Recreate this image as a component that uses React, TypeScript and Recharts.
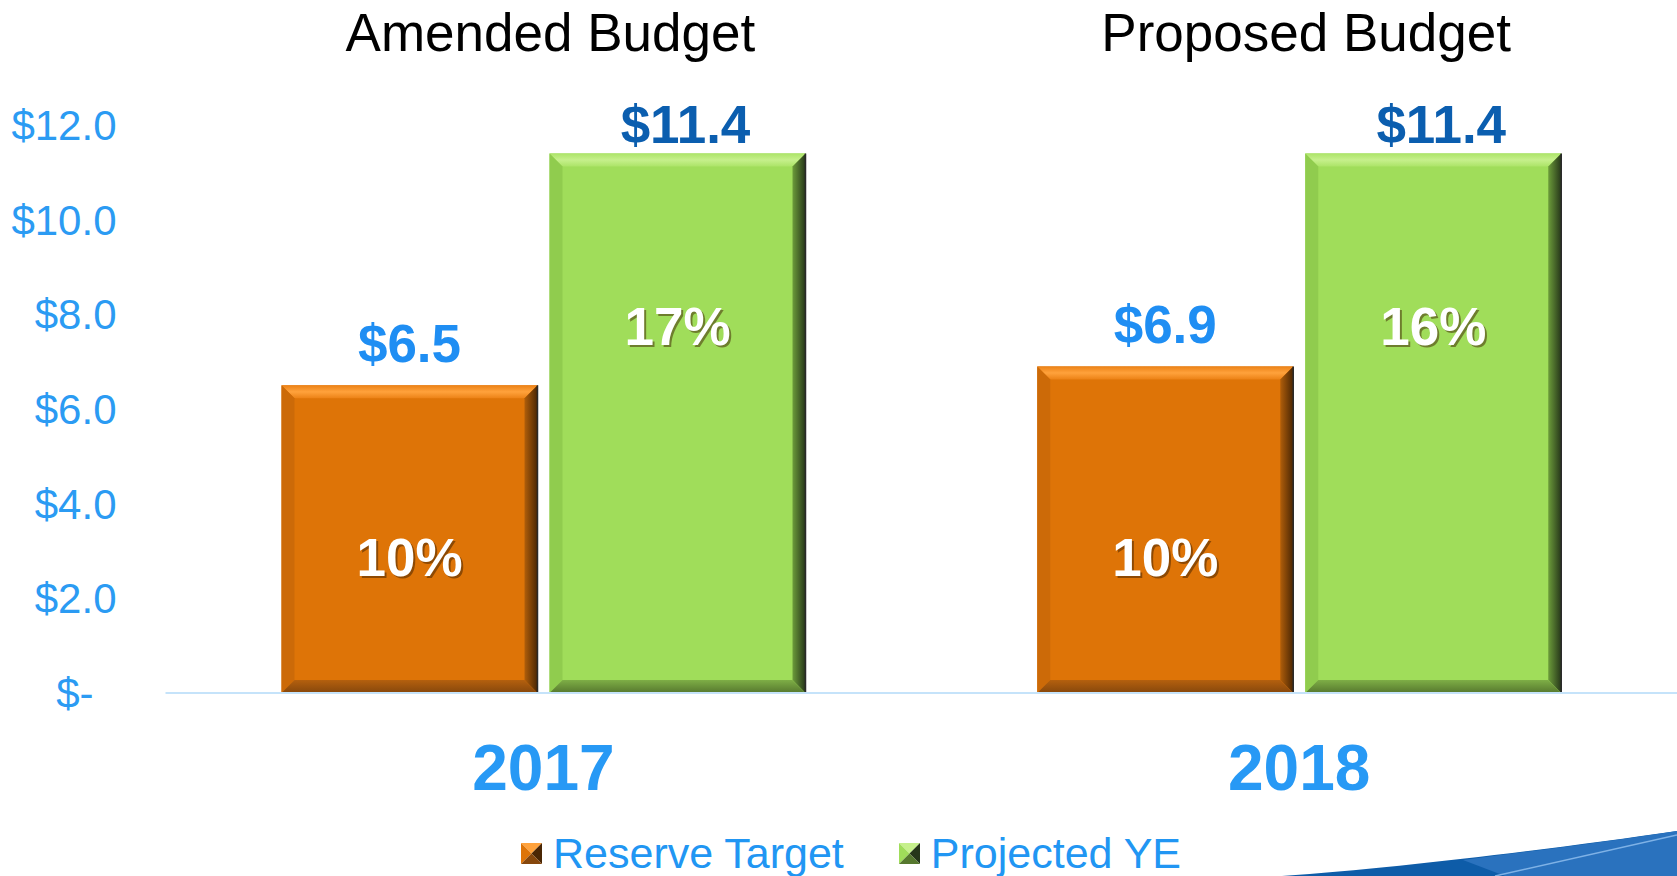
import React from "react";
import { Bar, BarChart, LabelList, Legend, XAxis, YAxis } from "recharts";

const years = ["2017", "2018"];
const titles = ["Amended Budget", "Proposed Budget"];
const reserveTarget = [6.5, 6.9];
const projectedYE = [11.4, 11.4];
const reservePct = ["10%", "10%"];
const projectedPct = ["17%", "16%"];
const yTicks = [0, 2, 4, 6, 8, 10, 12];

const data = years.map((year, i) => ({
  year,
  title: titles[i],
  reserve: reserveTarget[i],
  projected: projectedYE[i],
  reservePct: reservePct[i],
  projectedPct: projectedPct[i]
}));

const FONT = "'Liberation Sans', Arial, sans-serif";

type Palette = {
  id: string;
  face: string;
  top: [string, string];
  left: string;
  right: [string, string];
  bottom: [string, string];
};

const ORANGE: Palette = {
  id: "org",
  face: "#DE7407",
  top: ["#FFA23C", "#EC8216"],
  left: "#CC6A08",
  right: ["#B05E0A", "#4A2604"],
  bottom: ["#B4600E", "#86470C"]
};

const GREEN: Palette = {
  id: "grn",
  face: "#A0DD5A",
  top: ["#C6F08C", "#ACE468"],
  left: "#90CC4E",
  right: ["#6C9C3A", "#26361A"],
  bottom: ["#7EAE46", "#56782E"]
};

function BevelBar(props: any) {
  const { x, y, width: w, height: h, pal } = props as { x: number; y: number; width: number; height: number; pal: Palette };
  if (!w || !h) return null;
  const b = 13;
  return (
    <g>
      <defs>
        <linearGradient id={`${pal.id}-t`} x1="0" y1="0" x2="0" y2="1">
          <stop offset="0" stopColor={pal.top[1]} />
          <stop offset="0.5" stopColor={pal.top[0]} />
          <stop offset="1" stopColor={pal.top[1]} />
        </linearGradient>
        <linearGradient id={`${pal.id}-r`} x1="0" y1="0" x2="1" y2="0">
          <stop offset="0" stopColor={pal.right[0]} />
          <stop offset="1" stopColor={pal.right[1]} />
        </linearGradient>
        <linearGradient id={`${pal.id}-b`} x1="0" y1="0" x2="0" y2="1">
          <stop offset="0" stopColor={pal.bottom[0]} />
          <stop offset="1" stopColor={pal.bottom[1]} />
        </linearGradient>
      </defs>
      <rect x={x} y={y} width={w} height={h} fill={pal.face} />
      <polygon points={`${x},${y} ${x + w},${y} ${x + w - b},${y + b} ${x + b},${y + b}`} fill={`url(#${pal.id}-t)`} />
      <polygon points={`${x},${y} ${x + b},${y + b} ${x + b},${y + h - b} ${x},${y + h}`} fill={pal.left} />
      <polygon points={`${x + w},${y} ${x + w},${y + h} ${x + w - b},${y + h - b} ${x + w - b},${y + b}`} fill={`url(#${pal.id}-r)`} />
      <polygon points={`${x},${y + h} ${x + b},${y + h - b} ${x + w - b},${y + h - b} ${x + w},${y + h}`} fill={`url(#${pal.id}-b)`} />
      <line x1={x + w} y1={y} x2={x + w} y2={y + h} stroke="#2a2a2a" strokeWidth={1.5} />
    </g>
  );
}

function YTick({ x, y, payload }: any) {
  const v = payload.value as number;
  const label = v === 0 ? "$-" : `$${v.toFixed(1)}`;
  return (
    <text x={x - 49 - (v === 0 ? 23 : 0)} y={y + 15} textAnchor="end" fontFamily={FONT} fontSize={42} fill="#2B9BF3">
      {label}
    </text>
  );
}

function YearTick({ x, y, payload }: any) {
  return (
    <text x={x} y={y + 97} textAnchor="middle" fontFamily={FONT} fontSize={64} fontWeight="bold" fill="#2799F5">
      {payload.value}
    </text>
  );
}

function TitleTick({ x, y, payload }: any) {
  return (
    <text x={x + 7} y={y - 74} textAnchor="middle" fontFamily={FONT} fontSize={53} fill="#000">
      {payload.value}
    </text>
  );
}

function valueLabel(color: string, lift: number, dx: number) {
  return (p: any) => (
    <text
      x={p.x + p.width / 2 + dx}
      y={p.y - lift}
      textAnchor="middle"
      fontFamily={FONT}
      fontSize={53}
      fontWeight="bold"
      fill={color}
    >
      {`$${Number(p.value).toFixed(1)}`}
    </text>
  );
}

function pctLabel(place: (y: number, h: number) => number) {
  return (p: any) => {
    const cx = p.x + p.width / 2;
    const ty = place(p.y, p.height);
    return (
      <g fontFamily={FONT} fontSize={53} fontWeight="bold" textAnchor="middle">
        <text x={cx + 2} y={ty + 2} fill="rgba(60,30,0,0.5)">{p.value}</text>
        <text x={cx} y={ty} fill="#FFFFFF">{p.value}</text>
      </g>
    );
  };
}

function LegendIcon({ pal }: { pal: Palette }) {
  const s = 21;
  const c = s / 2;
  return (
    <svg width={s} height={s} style={{ display: "block" }}>
      <polygon points={`0,0 ${s},0 ${c},${c}`} fill={pal.top[0]} />
      <polygon points={`0,0 ${c},${c} 0,${s}`} fill={pal.face} />
      <polygon points={`${s},0 ${s},${s} ${c},${c}`} fill={pal.right[1]} />
      <polygon points={`0,${s} ${c},${c} ${s},${s}`} fill={pal.bottom[1]} />
    </svg>
  );
}

function LegendContent() {
  const items = [
    { name: "Reserve Target", pal: ORANGE },
    { name: "Projected YE", pal: GREEN }
  ];
  return (
    <div
      style={{
        height: 52,
        display: "flex",
        justifyContent: "center",
        alignItems: "center",
        paddingLeft: 25,
        transform: "translateY(3px)"
      }}
    >
      {items.map((it, i) => (
        <div key={it.name} style={{ display: "flex", alignItems: "center", marginLeft: i ? 55 : 0 }}>
          <LegendIcon pal={it.pal} />
          <span style={{ marginLeft: 11, fontFamily: FONT, fontSize: 43, color: "#2196F3", lineHeight: "52px" }}>
            {it.name}
          </span>
        </div>
      ))}
    </div>
  );
}

export default function App() {
  return (
    <div style={{ position: "absolute", left: 0, top: 0, width: 1677, height: 876, background: "#fff", overflow: "hidden" }}>
      <svg width={1677} height={876} style={{ position: "absolute", left: 0, top: 0 }}>
        <path d="M1282,876 C1400,868 1560,848 1677,831 L1677,876 Z" fill="#0E5CA8" />
        <path d="M1463,860 C1540,850 1620,840 1677,831 L1677,876 L1505,876 Z" fill="#2A72BE" />
        <line x1={1495} y1={876} x2={1677} y2={835} stroke="#7FB2E6" strokeWidth={1.5} />
      </svg>
      <BarChart
        width={1677}
        height={876}
        data={data}
        margin={{ top: 0, right: 0, bottom: 0, left: 0 }}
        barCategoryGap={116}
        barGap={12}
        style={{ position: "absolute", left: 0, top: 0 }}
      >
        <XAxis
          xAxisId="top"
          orientation="top"
          dataKey="title"
          height={125}
          axisLine={false}
          tickLine={false}
          tickSize={0}
          tickMargin={0}
          tick={<TitleTick />}
        />
        <XAxis
          dataKey="year"
          height={131}
          axisLine={{ stroke: "#C5E3FA", strokeWidth: 2 }}
          tickLine={false}
          tickSize={0}
          tickMargin={0}
          tick={<YearTick />}
        />
        <YAxis
          width={165.5}
          domain={[0, 12]}
          ticks={yTicks}
          axisLine={false}
          tickLine={false}
          tickSize={0}
          tickMargin={0}
          tick={<YTick />}
          interval={0}
        />
        <Legend verticalAlign="bottom" content={<LegendContent />} />
        <Bar dataKey="reserve" name="Reserve Target" fill={ORANGE.face} isAnimationActive={false} shape={(p: any) => <BevelBar {...p} pal={ORANGE} />}>
          <LabelList dataKey="reserve" content={valueLabel("#1F8EF3", 23, 0)} />
          <LabelList dataKey="reservePct" content={pctLabel((y, h) => y + h - 117)} />
        </Bar>
        <Bar dataKey="projected" name="Projected YE" fill={GREEN.face} isAnimationActive={false} shape={(p: any) => <BevelBar {...p} pal={GREEN} />}>
          <LabelList dataKey="projected" content={valueLabel("#0B5EAF", 10, 8)} />
          <LabelList dataKey="projectedPct" content={pctLabel((y) => y + 192)} />
        </Bar>
      </BarChart>
    </div>
  );
}
